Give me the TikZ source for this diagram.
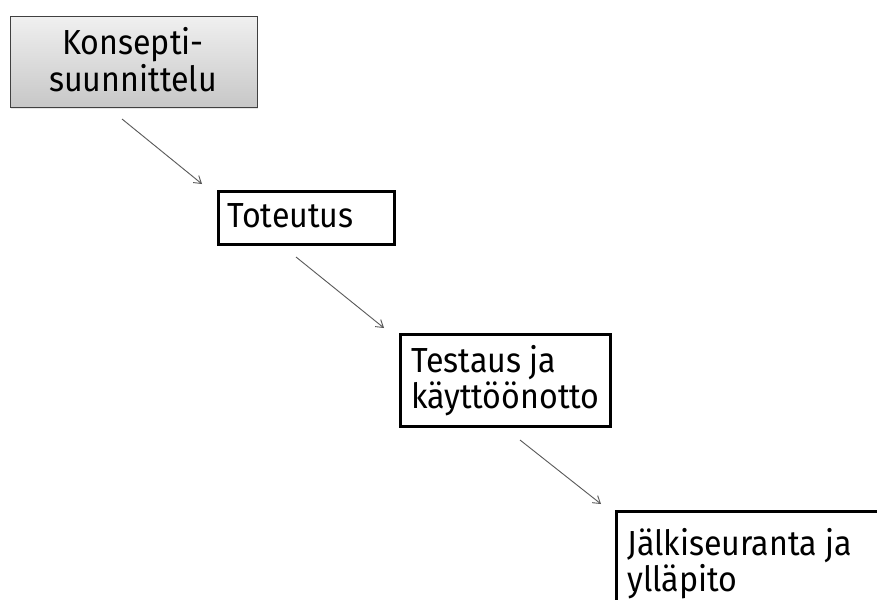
\documentclass[tikz,border=0pt]{standalone}
\usepackage{fontspec}
\setmainfont[FakeStretch=0.925]{Fira Sans}
\usetikzlibrary{arrows.meta,shadows}
\tikzset{
  stagebox/.style={draw=black, line width=2.6pt, anchor=north west, inner sep=0pt, fill=white},
  conceptbox/.style={draw=black!75, line width=1.3pt, anchor=north west, inner sep=0pt,
    top color=black!6, bottom color=black!22,
    drop shadow={shadow xshift=0pt, shadow yshift=-1.5pt, opacity=0.25, fill=black!40}},
  label/.style={anchor=base west, inner sep=0pt, font=\fontsize{34.8}{37}\selectfont},
  flow/.style={draw=black!65, line width=0.9pt, -{Straight Barb[length=7pt,width=9pt]}}
}
\begin{document}
\begin{tikzpicture}[x=1pt,y=-1pt]
\useasboundingbox (0,0) rectangle (877,599);
\clip (0,0) rectangle (877,599);
\fill[white] (0,0) rectangle (877,599);
% boxes
\node[conceptbox, minimum width=247pt, minimum height=91pt] (b1) at (10,16) {};
\node[stagebox, minimum width=176pt, minimum height=53pt] (b2) at (217,190) {};
\node[stagebox, minimum width=210pt, minimum height=92pt] (b3) at (399,333) {};
\node[stagebox, minimum width=300pt, minimum height=120pt] (b4) at (615,510) {};
% texts
\node[label, anchor=base] (t1a) at (133,55) {Konsepti-};
\node[label, anchor=base] (t1b) at (133,92) {suunnittelu};
\node[label] (t2) at (227,227) {Toteutus};
\node[label] (t3a) at (411,372) {Testaus ja};
\node[label] (t3b) at (411,408.5) {käyttöönotto};
\node[label] (t4a) at (627,555) {Jälkiseuranta ja};
\node[label] (t4b) at (627,591) {ylläpito};
% connectors
\coordinate (a1s) at (122,119); \coordinate (a1e) at (202,184);
\coordinate (a2s) at (296,257); \coordinate (a2e) at (384,328);
\coordinate (a3s) at (520,440); \coordinate (a3e) at (601,504);
\draw[flow] (a1s) -- (a1e);
\draw[flow] (a2s) -- (a2e);
\draw[flow] (a3s) -- (a3e);
\end{tikzpicture}
\end{document}
